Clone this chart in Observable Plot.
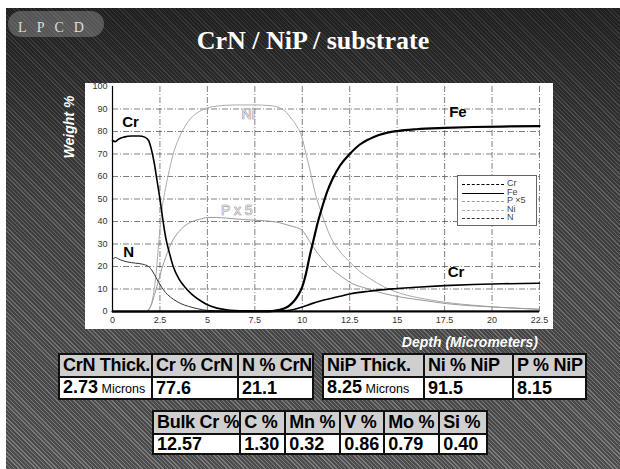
<!DOCTYPE html>
<html>
<head>
<meta charset="utf-8">
<script src="https://cdn.jsdelivr.net/npm/d3@7"></script>
<script src="https://cdn.jsdelivr.net/npm/@observablehq/plot@0.6"></script>
<style>
  html, body { margin: 0; padding: 0; background: #fff; }
  #slide {
    position: absolute; left: 6px; top: 8px; width: 614px; height: 461px; overflow: hidden;
    background:
      linear-gradient(to bottom, rgba(0,0,0,0.62) 0px, rgba(0,0,0,0.5) 65px, rgba(0,0,0,0.25) 200px, rgba(0,0,0,0.05) 461px),
      repeating-linear-gradient(45deg, #858585 0px, #858585 1px, #515151 1px, #515151 3px);
  }
  .abs { position: absolute; }
  #title { left: 0; width: 614px; top: 18px; text-align: center; padding-left: 0px; box-sizing: border-box;
    font-family: "Liberation Serif", "DejaVu Serif", serif; font-weight: bold; font-size: 26px; color: #fff; }
  #logo { left: 2px; top: 3px; width: 96px; height: 26px; border-radius: 13px; background: rgba(150,150,150,0.45);
    font-family: "Liberation Serif", serif; font-size: 14px; color: #ddd; letter-spacing: 10px; text-align: center; line-height: 34px; }
  #ylabel { left: 27px; top: 112px; width: 70px; transform: rotate(-90deg); transform-origin: 35px 7px;
    font-family: "Liberation Sans", Arial, sans-serif; font-weight: bold; font-style: italic; font-size: 14px; color: #fff; text-align: center; }
  #xlabel { left: 300px; width: 232px; top: 326px; text-align: right;
    font-family: "Liberation Sans", Arial, sans-serif; font-weight: bold; font-style: italic; font-size: 14px; color: #fff; }
  #box { left: 79px; top: 75px; width: 468px; height: 246px; background: #fff; }
  #chart { left: 79px; top: 75px; }
  #chart svg { overflow: visible; }
  #legend { left: 451px; top: 167px; width: 78px; height: 49px; border: 1px solid #666; background: #fff; }
  .lg { position: absolute; left: 4px; height: 9px; font-family: "Liberation Sans", Arial, sans-serif; font-size: 9px; color: #444; }
  .lg span.ln { position: absolute; left: 0; top: 5px; width: 42px; }
  .lg span.tx { position: absolute; left: 45px; top: -1px; white-space: nowrap; }
  table.dt { position: absolute; border-collapse: collapse; table-layout: fixed;
    font-family: "Liberation Sans", Arial, sans-serif; font-weight: bold; color: #000; }
  table.dt td { border: 2px solid #111; padding: 0 0 0 3px; white-space: nowrap; overflow: hidden; }
  table.dt tr.h td { background: #cfcfcf; font-size: 18px; height: 21px; line-height: 21px; letter-spacing: -0.3px; }
  table.dt tr.v td { background: #fff; font-size: 18px; height: 18px; line-height: 18px; }
  table.dt small { font-size: 12.5px; font-weight: normal; }
</style>
</head>
<body>
<div id="slide">
  <div id="logo" class="abs">LPCD</div>
  <div id="title" class="abs">CrN / NiP / substrate</div>
  <div id="ylabel" class="abs">Weight %</div>
  <div id="box" class="abs"></div>
  <div id="chart" class="abs"></div>
  <div id="legend" class="abs"></div>
  <div id="xlabel" class="abs">Depth (Micrometers)</div>
  <div id="tables"></div>
</div>
<script>
// ---- axis ticks ----
const xTicks = [0, 2.5, 5, 7.5, 10, 12.5, 15, 17.5, 20, 22.5];
const yTicks = [0, 10, 20, 30, 40, 50, 60, 70, 80, 90, 100];

// ---- series: Cr ----
const crX = [0, 0.15, 0.3, 0.6, 1.0, 1.4, 1.7, 1.9, 2.05, 2.2, 2.35, 2.5, 2.65, 2.8, 3.0, 3.2, 3.5, 3.8, 4.2, 4.6, 5.0, 5.5, 6.0, 7.0, 8.0, 9.0, 9.5, 10.0, 10.5, 11.0, 11.5, 12.0, 12.5, 13.0, 13.5, 14.0, 15.0, 16.0, 17.5, 19.0, 20.5, 22.5];
const crY = [76, 75.5, 76.5, 77.5, 78, 78, 77.5, 76, 72, 66, 58, 50, 41, 33, 26, 20, 14.5, 11, 7.5, 5, 3, 1.5, 0.8, 0.3, 0.2, 0.3, 0.8, 2, 3.5, 4.8, 5.8, 6.8, 7.8, 8.5, 9.0, 9.5, 10.2, 10.8, 11.5, 12.0, 12.3, 12.6];

// ---- series: Fe ----
const feX = [0, 8.0, 8.5, 9.0, 9.3, 9.6, 9.8, 10.0, 10.2, 10.4, 10.6, 10.8, 11.0, 11.3, 11.6, 12.0, 12.5, 13.0, 13.5, 14.0, 14.5, 15.0, 16.0, 17.5, 19.0, 20.5, 22.5];
const feY = [0, 0, 0.3, 1.2, 2.5, 5, 7.5, 11, 17, 25, 32, 39, 45, 53, 59, 65, 70, 74, 76.5, 78.3, 79.5, 80.2, 81, 81.6, 82, 82.2, 82.4];

// ---- series: P x 5 ----
const pX = [0, 1.8, 2.0, 2.2, 2.4, 2.6, 2.8, 3.0, 3.2, 3.5, 3.8, 4.2, 4.6, 5.0, 5.5, 6.0, 7.0, 8.0, 8.6, 9.0, 9.4, 9.7, 10.0, 10.4, 10.8, 11.2, 11.6, 12.0, 12.5, 13.4, 14.3, 15.2, 16.5, 17.6, 19.0, 20.5, 22.5];
const pY = [0, 0, 2, 7, 13, 19, 24, 28.5, 32, 35.5, 38, 40, 41, 41.8, 41.8, 41.5, 40.8, 40.3, 39.8, 39, 38, 37.3, 36, 31, 26, 22, 18.5, 16, 13, 10.2, 8, 6.4, 4.8, 3.5, 2.5, 1.8, 1.0];

// ---- series: Ni ----
const niX = [0, 1.7, 1.9, 2.1, 2.3, 2.45, 2.6, 2.8, 3.0, 3.2, 3.5, 3.8, 4.2, 4.6, 5.0, 5.5, 6.5, 7.5, 8.3, 8.8, 9.1, 9.4, 9.7, 10.0, 10.2, 10.4, 10.7, 11.0, 11.5, 12.0, 12.5, 13.0, 13.5, 14.3, 15.2, 16.5, 17.6, 19.0, 20.5, 22.5];
const niY = [0, 0, 1, 5, 17, 32, 45, 55, 63, 70, 77, 82, 86.5, 89, 90.5, 91.3, 91.8, 91.8, 91.5, 90.5, 89, 86, 82.5, 77, 70, 63, 52, 44, 33, 26.5, 22, 18, 15, 11, 8, 5.5, 4, 2.8, 1.8, 1.0];

// ---- series: N ----
const nX = [0, 0.15, 0.4, 0.8, 1.2, 1.6, 1.9, 2.1, 2.3, 2.5, 2.7, 2.9, 3.2, 3.6, 4.0, 4.5, 5.0, 6.0, 22.5];
const nY = [23, 24, 23, 22, 21.5, 21, 20, 18, 15, 12, 9.5, 7.5, 5.5, 3.5, 2.3, 1.2, 0.5, 0.2, 0.2];

// ---- curve labels ----
const boldLabels = ["Cr", "N", "Fe", "Cr"];
const boldLabelX = [0.95, 0.85, 18.2, 18.1];
const boldLabelY = [84, 26.5, 88.4, 17.3];
const grayLabels = ["Ni", "P x 5"];
const grayLabelX = [7.15, 6.55];
const grayLabelY = [87.5, 45];

// ---- legend ----
const legendNames = ["Cr", "Fe", "P \u00d75", "Ni", "N"];

// ---- tables ----
const crnHead = ["CrN Thick.", "Cr % CrN", "N % CrN"];
const crnVals = ["2.73", "77.6", "21.1"];
const nipHead = ["NiP Thick.", "Ni % NiP", "P % NiP"];
const nipVals = ["8.25", "91.5", "8.15"];
const bulkHead = ["Bulk Cr %", "C  %", "Mn %", "V  %", "Mo %", "Si  %"];
const bulkVals = ["12.57", "1.30", "0.32", "0.86", "0.79", "0.40"];
const thickUnit = "Microns";

// ---- styles ----
const seriesStyle = {
  "Cr": {stroke: "#000", strokeWidth: 1.6},
  "Fe": {stroke: "#000", strokeWidth: 2.2},
  "P \u00d75": {stroke: "#999", strokeWidth: 1},
  "Ni": {stroke: "#aaa", strokeWidth: 1},
  "N": {stroke: "#333", strokeWidth: 1}
};

const toRows = (xs, ys) => xs.map((x, i) => ({x, y: ys[i]}));
const toLabels = (t, xs, ys) => t.map((s, i) => ({s, x: xs[i], y: ys[i]}));
const gridStyle = {stroke: "#444", strokeOpacity: 0.85, strokeWidth: 0.8, strokeDasharray: "6,2,1,2"};

const chart = Plot.plot({
  width: 468, height: 246,
  marginLeft: 27, marginRight: 14, marginTop: 3, marginBottom: 18,
  style: {fontFamily: "'Liberation Sans', Arial, sans-serif", fontSize: "9px", background: "transparent", color: "#333"},
  x: {domain: [0, 22.5]},
  y: {domain: [0, 100]},
  marks: [
    Plot.gridY(yTicks.filter(d => d > 0 && d < 100), gridStyle),
    Plot.gridX(xTicks.filter(d => d > 0), gridStyle),
    Plot.axisX(xTicks, {tickSize: 0, tickPadding: 5, label: null, fill: "#333", tickFormat: d => String(d)}),
    Plot.axisY(yTicks, {tickSize: 0, tickPadding: 5, label: null, fill: "#333"}),
    Plot.ruleX([0], {stroke: "#000", strokeWidth: 1.2}),
    Plot.line(toRows(niX, niY), {x: "x", y: "y", curve: "monotone-x", ...seriesStyle["Ni"]}),
    Plot.line(toRows(pX, pY), {x: "x", y: "y", curve: "monotone-x", ...seriesStyle["P \u00d75"]}),
    Plot.line(toRows(nX, nY), {x: "x", y: "y", curve: "monotone-x", ...seriesStyle["N"]}),
    Plot.line(toRows(crX, crY), {x: "x", y: "y", curve: "monotone-x", ...seriesStyle["Cr"]}),
    Plot.line(toRows(feX, feY), {x: "x", y: "y", curve: "monotone-x", ...seriesStyle["Fe"]}),
    Plot.ruleY([0], {stroke: "#000", strokeWidth: 2}),
    Plot.text(toLabels(boldLabels, boldLabelX, boldLabelY), {x: "x", y: "y", text: "s", fontSize: 15, fontWeight: "bold", fill: "#000"}),
    Plot.text(toLabels(grayLabels, grayLabelX, grayLabelY), {x: "x", y: "y", text: "s", fontSize: 14, fill: "#ddd", stroke: "#777", strokeWidth: 0.7})
  ]
});
document.getElementById("chart").appendChild(chart);

// legend
const lg = document.getElementById("legend");
legendNames.forEach((name, i) => {
  const st = seriesStyle[name];
  const row = document.createElement("div");
  row.className = "lg";
  row.style.top = (3 + i * 8.6) + "px";
  const ln = document.createElement("span");
  ln.className = "ln";
  ln.style.borderTop = Math.min(st.strokeWidth, 1.5) + "px " + (name === "Fe" ? "solid " : "dashed ") + st.stroke;
  const tx = document.createElement("span");
  tx.className = "tx";
  tx.textContent = name;
  row.appendChild(ln); row.appendChild(tx);
  lg.appendChild(row);
});

// tables
function makeTable(head, vals, widths, left, top, unitCol) {
  const t = document.createElement("table");
  t.className = "dt";
  t.style.left = left + "px"; t.style.top = top + "px";
  const cg = document.createElement("colgroup");
  widths.forEach(w => { const c = document.createElement("col"); c.style.width = w + "px"; cg.appendChild(c); });
  t.appendChild(cg);
  const hr = document.createElement("tr"); hr.className = "h";
  head.forEach(h => { const td = document.createElement("td"); td.textContent = h; hr.appendChild(td); });
  const vr = document.createElement("tr"); vr.className = "v";
  vals.forEach((v, i) => {
    const td = document.createElement("td");
    td.textContent = v;
    if (i === unitCol) { const s = document.createElement("small"); s.textContent = " " + thickUnit; td.appendChild(s); }
    vr.appendChild(td);
  });
  t.appendChild(hr); t.appendChild(vr);
  document.getElementById("tables").appendChild(t);
}
makeTable(crnHead, crnVals, [93, 86, 73], 52, 345, 0);
makeTable(nipHead, nipVals, [101, 89, 73], 316, 345, 0);
makeTable(bulkHead, bulkVals, [86, 45, 55, 44, 55, 48], 146, 402, -1);
</script>
</body>
</html>
